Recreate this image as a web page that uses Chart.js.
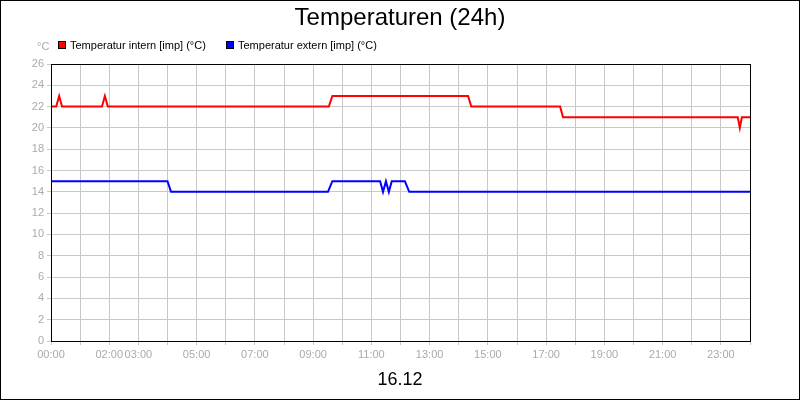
<!DOCTYPE html>
<html><head><meta charset="utf-8">
<script src="https://cdn.jsdelivr.net/npm/chart.js@4"></script>
<style>html,body{margin:0;padding:0;background:#fff}#w{width:800px;height:400px}</style>
</head><body><div id="w"><canvas id="c" width="800" height="400"></canvas></div>
<script>
const titleText = "Temperaturen (24h)";
const dateLabel = "16.12";
const unitLabel = "°C";
const seriesNames = ["Temperatur intern [imp] (°C)", "Temperatur extern [imp] (°C)"];
const internHours = [0,0.18,0.28,0.38,1.75,1.85,1.95,9.54,9.66,14.32,14.43,17.48,17.58,23.58,23.65,23.72,24];
const internTemps = [22,22,23,22,22,23,22,22,23,23,22,22,21,21,20,21,21];
const externHours = [0,4.0,4.12,9.51,9.66,11.3,11.4,11.5,11.6,11.7,12.15,12.3,24];
const externTemps = [15,15,14,14,15,15,14,15,14,15,15,14,14];
const labeledHours = [0,2,3,5,7,9,11,13,15,17,19,21,23];
const pts = (h,v)=>h.map((x,i)=>({x:x,y:v[i]}));
const deco = {
  id:'deco',
  afterDraw(ch){
    const c=ch.ctx, a=ch.chartArea;
    c.save();
    c.strokeStyle='#000'; c.lineWidth=1;
    c.strokeRect(a.left+0.5,a.top+0.5,a.right-a.left,a.bottom-a.top);
    c.strokeRect(0.5,0.5,799,399);
    c.fillStyle='#000'; c.textAlign='center'; c.textBaseline='middle';
    c.font='24px "Liberation Sans", Arial, sans-serif';
    c.fillText(titleText,400,18);
    c.font='18px "Liberation Sans", Arial, sans-serif';
    c.fillText(dateLabel,400,380);
    c.fillStyle='#aaa'; c.font='11px "Liberation Sans", Arial, sans-serif';
    c.textAlign='left';
    c.fillText(unitLabel,37,47);
    const cols=['#ff0000','#0000ff'], xs=[58,226];
    c.font='11px "Liberation Sans", Arial, sans-serif';
    for(let i=0;i<2;i++){
      c.fillStyle=cols[i]; c.fillRect(xs[i],41,8,8);
      c.strokeStyle='#000'; c.strokeRect(xs[i]+0.5,41.5,7,7);
      c.fillStyle='#000'; c.fillText(seriesNames[i],xs[i]+12,45.5);
    }
    c.restore();
  }
};
new Chart(document.getElementById('c'),{
  type:'line',
  data:{datasets:[
    {data:pts(internHours,internTemps),borderColor:'#ff0000',borderWidth:2,pointRadius:0,tension:0},
    {data:pts(externHours,externTemps),borderColor:'#0000ff',borderWidth:2,pointRadius:0,tension:0}
  ]},
  options:{
    responsive:false,animation:false,
    layout:{padding:{top:64,right:50,left:0,bottom:0}},
    plugins:{legend:{display:false},title:{display:false},tooltip:{enabled:false}},
    scales:{
      x:{type:'linear',min:0,max:24,
        ticks:{stepSize:1,autoSkip:false,maxRotation:0,color:'#aaa',font:{size:11,family:'"Liberation Sans", Arial'},
          callback:v=>labeledHours.includes(v)?String(v).padStart(2,'0')+':00':''},
        grid:{color:'#c8c8c8',tickLength:4},border:{color:'#000'},
        afterFit:s=>{s.height=59;}},
      y:{min:0,max:26,
        ticks:{stepSize:2,color:'#aaa',font:{size:11,family:'"Liberation Sans", Arial'},padding:3},
        grid:{color:'#c8c8c8',tickLength:4},border:{color:'#000'},
        afterFit:s=>{s.width=51;}}
    }
  },
  plugins:[deco]
});
</script></body></html>
